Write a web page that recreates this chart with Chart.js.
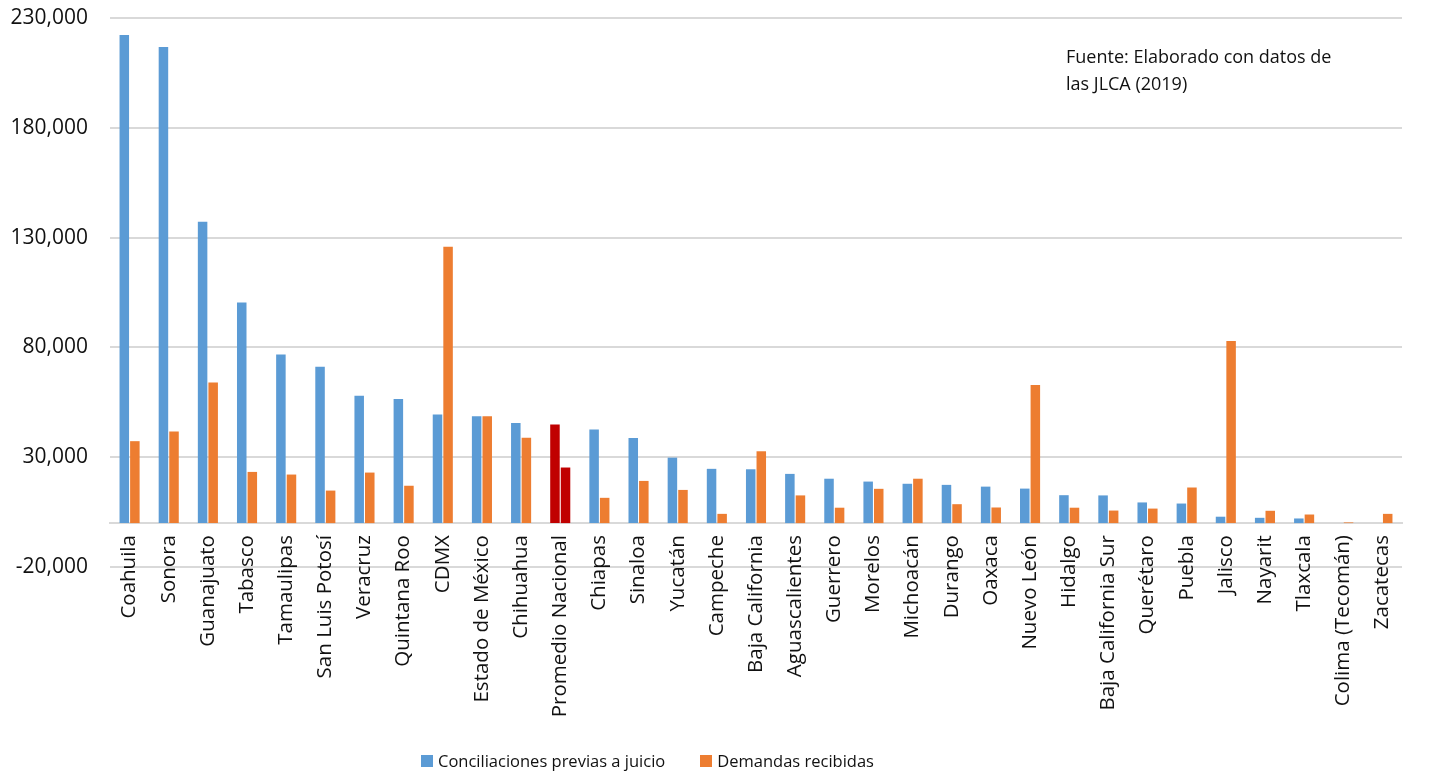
<!DOCTYPE html>
<html lang="es">
<head>
<meta charset="utf-8">
<title>Conciliaciones y demandas por entidad</title>
<script src="https://cdn.jsdelivr.net/npm/chart.js@4/dist/chart.umd.min.js"></script>
<style>
  html, body { margin: 0; padding: 0; background: #fff; }
  .wrap { position: relative; width: 1437px; height: 778px; font-family: "Open Sans", sans-serif; }
  .wrap canvas { position: absolute; left: 0; top: 0; }
  .fuente { position: absolute; left: 1066px; top: 43px; font-size: 18px; line-height: 27px; color: #111; }
  .legend { position: absolute; left: 421px; top: 749px; margin: 0; padding: 0; list-style: none; display: flex; font-size: 16.5px; color: #111; }
  .legend li { display: flex; align-items: center; margin-right: 35px; }
  .legend .box { display: inline-block; width: 12px; height: 12px; margin-right: 5px; }
</style>
</head>
<body>
<div class="wrap">
  <canvas class="my-chart" width="1437" height="778"></canvas>
  <div class="fuente">Fuente: Elaborado con datos de<br>las JLCA (2019)</div>
  <ul class="legend"></ul>
</div>
<script>
const categories = [
  "Coahuila", "Sonora", "Guanajuato", "Tabasco", "Tamaulipas", "San Luis Potosí",
  "Veracruz", "Quintana Roo", "CDMX", "Estado de México", "Chihuahua", "Promedio Nacional",
  "Chiapas", "Sinaloa", "Yucatán", "Campeche", "Baja California", "Aguascalientes",
  "Guerrero", "Morelos", "Michoacán", "Durango", "Oaxaca", "Nuevo León", "Hidalgo",
  "Baja California Sur", "Querétaro", "Puebla", "Jalisco", "Nayarit", "Tlaxcala",
  "Colima (Tecomán)", "Zacatecas",
];

const conciliaciones = [
  222300, 216800, 137200, 100400, 76800, 71200,
  58000, 56500, 49400, 48600, 45600, 44900,
  42600, 38800, 29800, 24700, 24500, 22400,
  20200, 18900, 17900, 17400, 16600, 15700, 12700,
  12600, 9400, 8900, 2900, 2400, 2100,
  0, 0,
];

const demandas = [
  37300, 41700, 64000, 23300, 22100, 14800,
  23000, 17000, 125800, 48600, 38900, 25300,
  11500, 19200, 15100, 4200, 32700, 12600,
  7000, 15600, 20200, 8600, 7100, 62900, 7000,
  5700, 6600, 16200, 82900, 5600, 3900,
  300, 4200,
];

const yTicks = [-20000, 30000, 80000, 130000, 180000, 230000];

const seriesNames = ["Conciliaciones previas a juicio", "Demandas recibidas"];
const seriesColors = ["#5B9BD5", "#ED7D31"];
const highlight = "Promedio Nacional";
const highlightColor = "#C00000";

const colorsFor = (base) => categories.map((c) => (c === highlight ? highlightColor : base));

const myChart = document.querySelector(".my-chart");

new Chart(myChart, {
  type: "bar",
  data: {
    labels: categories,
    datasets: [
      { label: seriesNames[0], data: conciliaciones, backgroundColor: colorsFor(seriesColors[0]) },
      { label: seriesNames[1], data: demandas, backgroundColor: colorsFor(seriesColors[1]) },
    ],
  },
  options: {
    responsive: false,
    animation: false,
    categoryPercentage: 0.54,
    barPercentage: 0.9,
    layout: { padding: { top: 18, right: 35, bottom: 211, left: 0 } },
    plugins: {
      legend: { display: false },
      tooltip: { enabled: false },
    },
    scales: {
      x: {
        position: { y: 0 },
        grid: { display: false, drawTicks: false },
        border: { display: true, color: "#D9D9D9", width: 2 },
        ticks: {
          minRotation: 90,
          maxRotation: 90,
          autoSkip: false,
          padding: 12,
          color: "#111",
          font: { family: "Open Sans", size: 20.5 },
        },
      },
      y: {
        min: -20000,
        max: 230000,
        afterBuildTicks: (scale) => {
          scale.ticks = yTicks.map((v) => ({ value: v }));
        },
        afterFit: (scale) => {
          scale.width = 110;
          scale.paddingTop = 0;
          scale.paddingBottom = 0;
        },
        grid: { color: "#D9D9D9", lineWidth: 2, drawTicks: false },
        border: { display: false },
        ticks: {
          padding: 22,
          color: "#111",
          font: { family: "Open Sans", size: 21 },
          callback: (v) => v.toLocaleString("en-US"),
        },
      },
    },
  },
});

const ul = document.querySelector(".legend");

const populateLegend = () => {
  seriesNames.forEach((name, i) => {
    let li = document.createElement("li");
    li.innerHTML = `<span class='box' style='background:${seriesColors[i]}'></span>${name}`;
    ul.appendChild(li);
  });
};

populateLegend();
</script>
</body>
</html>
